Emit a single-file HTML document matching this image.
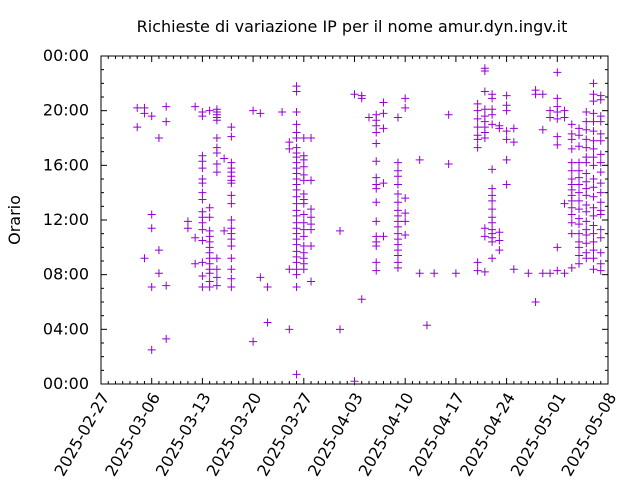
<!DOCTYPE html>
<html><head><meta charset="utf-8"><style>
html,body{margin:0;padding:0;background:#fff}
svg{display:block;font-family:"DejaVu Sans","Liberation Sans",sans-serif}
</style></head><body>
<svg id="chart" width="640" height="480" viewBox="0 0 640 480">
<text x="352" y="32" text-anchor="middle" font-size="16">Richieste di variazione IP per il nome amur.dyn.ingv.it</text>
<text transform="translate(20,220) rotate(-90)" text-anchor="middle" font-size="16">Orario</text>
<g id="grid"></g>
<g id="marks"></g>
<rect x="101" y="56" width="507" height="328" fill="none" stroke="#000" stroke-width="1"/>
</svg>
<script>
const xTickLabels = ["2025-02-27","2025-03-06","2025-03-13","2025-03-20","2025-03-27","2025-04-03","2025-04-10","2025-04-17","2025-04-24","2025-05-01","2025-05-08"];
const yTickLabels = ["00:00","04:00","08:00","12:00","16:00","20:00","00:00"];
const pointDays = [5,6,7,8,9,12,13,14,15,16,17,18,21,22,23,25,26,27,28,29,33,35,36,37,38,39,41,42,44,45,46,48,49,52,53,54,55,56,57,59,60,61,62,63,64,65,66,67,68,69];
const pointHours = [
[20.2,18.8],
[20.2,19.8,9.2],
[19.6,12.4,11.4,7.1,2.5],
[18.0,9.8,8.1],
[20.3,19.2,7.2,3.3],
[11.9,11.4],
[20.3,10.7,8.8],
[19.9,19.6,16.7,16.3,15.8,15.0,14.7,14.0,13.5,12.6,12.2,11.8,11.3,10.5,8.9,7.9,7.1],
[20.0,12.9,12.2,11.2,10.8,10.4,10.0,9.6,9.2,8.8,8.4,8.1,7.5,7.1],
[20.1,19.9,19.7,19.5,19.3,18.0,17.3,16.9,16.1,15.5,9.2,8.4,7.8,7.2],
[16.5,11.2],
[18.8,18.1,16.2,15.8,15.5,15.2,14.9,14.7,13.8,13.2,12.0,11.4,11.0,10.6,10.1,9.2,8.4,7.7,7.1],
[20.0,3.1],
[19.8,7.8],
[7.1,4.5],
[19.9],
[17.7,17.2,8.4,4.0],
[21.8,21.4,19.9,19.0,18.4,18.0,17.3,16.9,16.6,16.2,15.8,15.4,15.0,14.6,14.2,13.7,13.2,12.7,12.3,11.8,11.4,11.0,10.6,10.2,9.7,9.3,8.9,8.4,8.0,7.1,0.7],
[18.0,16.7,16.4,15.9,15.3,14.9,13.9,13.5,13.2,12.4,11.8,11.3,10.8,10.1,9.6,9.2,8.8,8.4],
[18.0,14.9,12.8,12.2,11.7,11.3,10.1,7.5],
[11.2,4.0],
[21.2,0.2],
[21.1,20.9,6.2],
[19.5],
[19.7,19.3,18.9,18.4,17.6,16.3,15.1,14.6,14.3,13.3,11.9,10.8,10.4,10.1,8.9,8.3],
[20.6,19.8,18.7,14.7,10.8],
[19.5,16.2,15.6,15.2,14.6,13.9,13.3,12.7,12.3,11.9,11.5,11.0,10.6,10.2,9.8,9.4,8.9,8.5],
[20.9,20.2,13.6,12.5,11.9,10.9],
[16.4,8.1],
[4.3],
[8.1],
[19.7,16.1],
[8.1],
[20.5,20.0,19.4,18.8,18.2,17.9,17.3,8.9,8.3],
[23.1,22.9,21.4,20.1,19.6,19.2,18.8,18.4,18.0,11.4,10.8,8.2],
[21.2,20.9,20.1,19.7,19.0,15.7,14.3,13.8,13.4,12.8,12.2,11.8,11.3,11.0,10.7,10.4,9.2],
[18.9,18.7,11.1,10.5,9.8],
[21.1,20.4,20.0,18.5,17.9,16.4,14.6],
[18.7,17.7,8.4],
[8.1],
[21.5,21.2,6.0],
[21.2,18.6,8.1],
[20.0,19.5,8.1],
[22.8,20.9,20.3,19.9,19.4,18.1,17.5,10.0,8.3],
[20.0,19.5,13.2,8.1],
[19.0,18.3,17.9,17.2,16.2,15.6,15.0,14.6,14.2,13.8,13.4,12.9,12.4,11.8,11.0,8.5],
[18.7,18.2,17.4,16.2,15.6,15.1,14.6,14.0,13.4,12.8,12.1,11.7,11.0,10.4,10.0,9.4,8.8],
[19.9,19.2,18.6,17.9,17.3,16.6,16.2,15.4,14.8,14.3,13.8,13.1,12.6,11.9,11.3,10.9,10.3,9.6,9.2],
[22.0,21.2,20.7,19.8,19.2,18.5,17.8,17.2,16.6,16.0,15.0,14.4,13.7,12.9,12.3,11.6,11.0,10.4,9.8,9.2,8.4],
[21.1,20.8,19.6,19.2,18.3,17.8,16.8,16.2,15.5,14.7,14.0,13.3,12.7,12.4,11.3,10.7,9.6,8.8,8.3]
];
const NS="http://www.w3.org/2000/svg";
const L=101,R=608,T=56,B=384,totalDays=70;
function xs(d){return L+(R-L)*d/totalDays;}
function ys(h){return B-(B-T)*h/24;}
const grid=document.getElementById('grid'),marks=document.getElementById('marks');
function line(p,x1,y1,x2,y2,c){const e=document.createElementNS(NS,'line');e.setAttribute('x1',x1);e.setAttribute('y1',y1);e.setAttribute('x2',x2);e.setAttribute('y2',y2);e.setAttribute('stroke',c||'#000');e.setAttribute('stroke-width','1');p.appendChild(e);return e;}
for(let d=0;d<=totalDays;d++){
  const x=xs(d),len=(d%7===0)?6:3;
  const t1=line(grid,x,B,x,B-len);
  
  
  const t2=line(grid,x,T,x,T+len);
  
  
}
xTickLabels.forEach((lab,i)=>{
  const x=xs(i*7);
  const t=document.createElementNS(NS,'text');
  t.setAttribute('transform','translate('+(x+4)+','+(B+10)+') rotate(-60)');
  t.setAttribute('text-anchor','end');t.setAttribute('font-size','16');t.setAttribute('dy','0.35em');
  t.textContent=lab;
  
  
  grid.appendChild(t);
});
for(let h=0;h<=24;h++){
  const y=ys(h),len=(h%4===0)?6:3;
  const a=line(grid,L,y,L+len,y);
  
  
  const b=line(grid,R,y,R-len,y);
  
  
}
yTickLabels.forEach((lab,i)=>{
  const t=document.createElementNS(NS,'text');
  t.setAttribute('x',L-12);t.setAttribute('y',ys(i*4)+5);
  t.setAttribute('text-anchor','end');t.setAttribute('font-size','16');
  t.textContent=lab;
  
  
  grid.appendChild(t);
});
pointDays.forEach((d,i)=>{
  pointHours[i].forEach(h=>{
    const x=xs(d),y=ys(h);
    const p=document.createElementNS(NS,'path');
    p.setAttribute('d','M'+(x-4)+' '+y+'H'+(x+4)+'M'+x+' '+(y-4)+'V'+(y+4));
    p.setAttribute('stroke','#9400d3');p.setAttribute('stroke-width','1');p.setAttribute('fill','none');
    
    
    marks.appendChild(p);
  });
});
</script>
</body></html>
